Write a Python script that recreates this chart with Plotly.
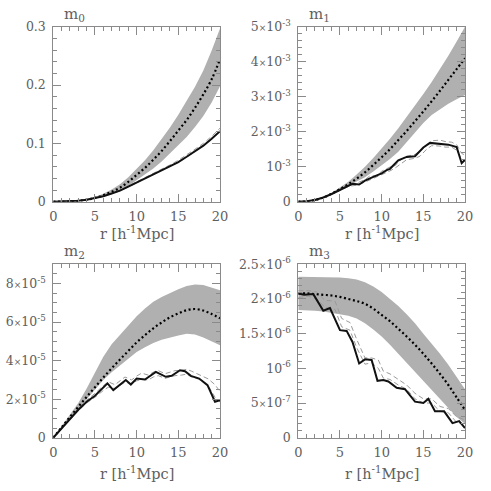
import plotly.graph_objects as go

# ---------------- data ----------------
r = list(range(0, 21))

# m0
m0_model = [0, 0.0001, 0.0005, 0.0015, 0.0035, 0.0065, 0.011, 0.017, 0.024, 0.034, 0.046,
            0.058, 0.072, 0.087, 0.104, 0.122, 0.140, 0.161, 0.184, 0.210, 0.244]
m0_hi = [0, 0.0001, 0.0006, 0.0018, 0.0042, 0.008, 0.0135, 0.021, 0.030, 0.042, 0.056,
         0.071, 0.088, 0.107, 0.127, 0.149, 0.172, 0.197, 0.225, 0.259, 0.297]
m0_lo = [0, 0.0001, 0.0004, 0.0012, 0.0028, 0.005, 0.0085, 0.013, 0.019, 0.027, 0.037,
         0.046, 0.057, 0.069, 0.083, 0.097, 0.111, 0.128, 0.147, 0.170, 0.198]
m0_data = [0, 0.0001, 0.0005, 0.0015, 0.0033, 0.006, 0.0095, 0.014, 0.019, 0.026, 0.033,
           0.039, 0.046, 0.053, 0.060, 0.068, 0.077, 0.086, 0.096, 0.108, 0.121]
m0_dash_hi = [0, 0.0001, 0.0005, 0.0015, 0.0034, 0.0062, 0.0098, 0.0145, 0.020, 0.027, 0.034,
              0.041, 0.048, 0.055, 0.063, 0.071, 0.080, 0.090, 0.100, 0.112, 0.126]
m0_dash_lo = [0, 0.0001, 0.0005, 0.0015, 0.0033, 0.006, 0.0094, 0.0138, 0.0188, 0.0255, 0.0325,
              0.0385, 0.0455, 0.0525, 0.0595, 0.0675, 0.0765, 0.0855, 0.0955, 0.1075, 0.1205]

# m1 (units of 1e-3)
m1_model = [0, 0.01, 0.05, 0.12, 0.23, 0.36, 0.50, 0.66, 0.84, 1.05, 1.27,
            1.50, 1.76, 2.02, 2.30, 2.58, 2.87, 3.17, 3.48, 3.79, 4.10]
m1_hi = [0, 0.01, 0.05, 0.13, 0.25, 0.40, 0.57, 0.78, 1.00, 1.25, 1.52,
         1.80, 2.10, 2.42, 2.75, 3.08, 3.42, 3.78, 4.17, 4.58, 5.00]
m1_lo = [0, 0.01, 0.05, 0.11, 0.21, 0.33, 0.45, 0.57, 0.70, 0.86, 1.03,
         1.22, 1.43, 1.70, 1.98, 2.25, 2.48, 2.65, 2.80, 2.93, 3.05]
m1_r = [0, 1, 2, 3, 4, 5, 6, 6.5, 7.3, 8, 9, 10, 10.6, 11, 12, 12.6, 13, 14, 15, 15.8, 16.6, 18, 19, 19.6, 20]
m1_data = [0, 0.01, 0.05, 0.12, 0.22, 0.34, 0.46, 0.51, 0.49, 0.60, 0.71, 0.81, 0.90, 0.94, 1.18, 1.24,
           1.28, 1.30, 1.55, 1.68, 1.66, 1.63, 1.56, 1.10, 1.20]
m1_dr = [0, 1, 2, 3, 4, 5, 6, 7, 8, 8.6, 9.4, 10, 11, 11.6, 12.4, 13, 14, 14.6, 15.4, 16, 17, 17.6, 18.4, 19, 19.6, 20]
m1_dash_hi = [0, 0.01, 0.05, 0.12, 0.23, 0.35, 0.48, 0.53, 0.63, 0.74, 0.74, 0.87, 0.99, 1.03, 1.22, 1.30,
              1.35, 1.45, 1.62, 1.74, 1.76, 1.72, 1.70, 1.63, 1.38, 1.33]
m1_dash_lo = [0, 0.01, 0.04, 0.11, 0.21, 0.32, 0.44, 0.47, 0.56, 0.62, 0.70, 0.78, 0.88, 0.96, 1.10, 1.20,
              1.24, 1.30, 1.50, 1.60, 1.59, 1.56, 1.56, 1.47, 1.22, 1.16]

# m2 (units of 1e-5)
m2_model = [0, 0.54, 1.08, 1.60, 2.12, 2.62, 3.12, 3.60, 4.06, 4.50, 4.95,
            5.32, 5.68, 5.98, 6.25, 6.45, 6.62, 6.68, 6.60, 6.42, 6.20]
m2_hi = [0, 0.60, 1.20, 1.80, 2.55, 3.40, 4.20, 4.85, 5.35, 5.85, 6.30,
         6.70, 7.05, 7.30, 7.52, 7.70, 7.88, 7.95, 7.92, 7.80, 7.65]
m2_lo = [0, 0.50, 1.00, 1.48, 2.00, 2.50, 3.00, 3.40, 3.75, 4.10, 4.45,
         4.70, 4.92, 5.08, 5.20, 5.30, 5.40, 5.35, 5.20, 5.00, 4.80]
m2_r = [0, 1, 2, 3, 4, 5, 6.5, 7.2, 8.7, 9.3, 10, 11, 12.3, 13.5, 14.2, 15.2, 15.8, 16.5, 17.5, 18.5, 19.4, 20]
m2_data = [0, 0.50, 1.00, 1.45, 1.87, 2.18, 2.82, 2.47, 2.99, 2.76, 3.07, 3.02, 3.42, 3.16, 3.21,
           3.50, 3.45, 3.21, 3.07, 2.73, 1.87, 1.95]
m2_dr = [0, 1, 2, 3, 4, 5, 6, 6.6, 7.4, 8, 8.6, 9.4, 10, 10.6, 11.4, 12, 12.6, 13.4, 14, 14.6,
         15.4, 16, 16.6, 17.4, 18, 18.6, 19.4, 20]
m2_dash_hi = [0, 0.52, 1.03, 1.50, 1.95, 2.30, 2.70, 2.90, 2.75, 2.95, 3.15, 3.00, 3.20, 3.35, 3.25,
              3.40, 3.48, 3.32, 3.40, 3.48, 3.50, 3.55, 3.45, 3.30, 3.20, 3.05, 2.75, 2.40]
m2_dash_lo = [0, 0.48, 0.97, 1.40, 1.80, 2.10, 2.45, 2.62, 2.55, 2.70, 2.88, 2.80, 2.95, 3.02, 3.00,
              3.15, 3.22, 3.08, 3.15, 3.22, 3.25, 3.30, 3.15, 3.05, 2.90, 2.68, 2.10, 1.85]

# m3 (units of 1e-6)
m3_model = [2.08, 2.08, 2.07, 2.06, 2.05, 2.03, 2.00, 1.97, 1.93, 1.86, 1.77,
            1.68, 1.57, 1.46, 1.34, 1.21, 1.07, 0.92, 0.76, 0.58, 0.40]
m3_hi = [2.32, 2.32, 2.32, 2.32, 2.32, 2.31, 2.30, 2.28, 2.24, 2.18, 2.10,
         2.00, 1.90, 1.78, 1.65, 1.50, 1.36, 1.21, 1.05, 0.88, 0.70]
m3_lo = [1.84, 1.84, 1.83, 1.82, 1.80, 1.78, 1.76, 1.72, 1.65, 1.56, 1.46,
         1.34, 1.21, 1.08, 0.94, 0.81, 0.68, 0.55, 0.42, 0.30, 0.20]
m3_r = [0, 0.7, 1.8, 3.0, 3.8, 5.0, 5.8, 6.5, 7.3, 8.0, 8.8, 9.5, 10.2, 10.8, 11.8, 12.8,
        14.0, 15.0, 15.6, 16.4, 17.5, 18.5, 19.3, 20]
m3_data = [2.08, 2.06, 2.07, 1.83, 1.87, 1.55, 1.54, 1.38, 1.07, 1.13, 1.12, 0.82, 0.83, 0.81,
           0.72, 0.70, 0.52, 0.50, 0.56, 0.38, 0.38, 0.21, 0.24, 0.14]
m3_dr = [0, 1.2, 2.2, 3.2, 4.4, 5.2, 6.2, 7.0, 8.0, 8.8, 9.6, 10.2, 11.0, 12.0, 13.0, 14.0,
         15.0, 16.0, 17.0, 18.0, 19.0, 20]
m3_dash_hi = [2.12, 2.12, 2.10, 1.98, 1.97, 1.72, 1.66, 1.42, 1.15, 1.15, 1.12, 0.96, 0.92, 0.84,
              0.76, 0.64, 0.56, 0.56, 0.45, 0.42, 0.30, 0.26]
m3_dash_lo = [2.02, 2.04, 2.00, 1.88, 1.85, 1.60, 1.55, 1.30, 1.06, 1.08, 1.00, 0.86, 0.84, 0.76,
              0.70, 0.56, 0.50, 0.50, 0.38, 0.36, 0.22, 0.20]

X = "<span style='font-size:9px'>×</span>"


def sci(mant, exp):
    return (mant + X if mant else "") + "10<sup>-" + exp + "</sup>"


m1_ticklabels = ["0", sci("", "3"), sci("2", "3"), sci("3", "3"), sci("4", "3"), sci("5", "3")]
m2_ticklabels = ["0", sci("2", "5"), sci("4", "5"), sci("6", "5"), sci("8", "5")]
m3_ticklabels = ["0", sci("5", "7"), sci("", "6"), sci("1.5", "6"), sci("2", "6"), sci("2.5", "6")]

panels = [
    dict(name="m<sub>0</sub>", model=m0_model, hi=m0_hi, lo=m0_lo, dr=r, dhi=m0_dash_hi, dlo=m0_dash_lo,
         sr=r, data=m0_data, yr=[0, 0.3], tv=[0, 0.1, 0.2, 0.3], tt=["0", "0.1", "0.2", "0.3"], minor=0.02),
    dict(name="m<sub>1</sub>", model=m1_model, hi=m1_hi, lo=m1_lo, dr=m1_dr, dhi=m1_dash_hi, dlo=m1_dash_lo,
         sr=m1_r, data=m1_data, yr=[0, 5], tv=[0, 1, 2, 3, 4, 5], tt=m1_ticklabels, minor=0.2),
    dict(name="m<sub>2</sub>", model=m2_model, hi=m2_hi, lo=m2_lo, dr=m2_dr, dhi=m2_dash_hi, dlo=m2_dash_lo,
         sr=m2_r, data=m2_data, yr=[0, 9], tv=[0, 2, 4, 6, 8], tt=m2_ticklabels, minor=0.5),
    dict(name="m<sub>3</sub>", model=m3_model, hi=m3_hi, lo=m3_lo, dr=m3_dr, dhi=m3_dash_hi, dlo=m3_dash_lo,
         sr=m3_r, data=m3_data, yr=[0, 2.5], tv=[0, 0.5, 1, 1.5, 2, 2.5], tt=m3_ticklabels, minor=0.1),
]

W = H = 491
xdoms = [[53.3 / W, 220 / W], [298.3 / W, 465 / W]]
ydoms = [[1 - 201.7 / H, 1 - 26.7 / H], [1 - 437.7 / H, 1 - 264.3 / H]]
title_y = [1 - 233 / H, 1 - 473 / H]

FONT = "DejaVu Serif"
TXT = "#606060"
AX = "#8a8a8a"

fig = go.Figure()
layout = dict(width=W, height=H, margin=dict(l=0, r=0, t=0, b=0, autoexpand=False),
              paper_bgcolor="white", plot_bgcolor="white", showlegend=False,
              font=dict(family=FONT, color=TXT, size=13))
annotations = []

for i, p in enumerate(panels):
    row, col = divmod(i, 2)
    xa = "x" if i == 0 else f"x{i+1}"
    ya = "y" if i == 0 else f"y{i+1}"
    common = dict(xaxis=xa, yaxis=ya, showlegend=False, hoverinfo="skip")
    fig.add_trace(go.Scatter(x=r, y=p["hi"], mode="lines", line=dict(width=0, color="#b0b0b0"), **common))
    fig.add_trace(go.Scatter(x=r, y=p["lo"], mode="lines", line=dict(width=0, color="#b0b0b0"),
                             fill="tonexty", fillcolor="#b0b0b0", **common))
    fig.add_trace(go.Scatter(x=p["dr"], y=p["dhi"], mode="lines",
                             line=dict(width=1, color="#9a9a9a", dash="5px,3px"), **common))
    fig.add_trace(go.Scatter(x=p["dr"], y=p["dlo"], mode="lines",
                             line=dict(width=1, color="#9a9a9a", dash="5px,3px"), **common))
    fig.add_trace(go.Scatter(x=r, y=p["model"], mode="lines", line_shape="spline",
                             line=dict(width=2.2, color="black", dash="2px,2.6px"), **common))
    fig.add_trace(go.Scatter(x=p["sr"], y=p["data"], mode="lines",
                             line=dict(width=2, color="#111111"), **common))

    axkey_x = "xaxis" if i == 0 else f"xaxis{i+1}"
    axkey_y = "yaxis" if i == 0 else f"yaxis{i+1}"
    layout[axkey_x] = dict(domain=xdoms[col], anchor=ya, range=[0, 20], tickvals=[0, 5, 10, 15, 20],
                           ticktext=["0", "5", "10", "15", "20"], automargin=False,
                           ticks="inside", ticklen=8, tickwidth=1, tickcolor=AX,
                           showline=True, linecolor=AX, linewidth=1, mirror="allticks",
                           showgrid=False, zeroline=False,
                           minor=dict(dtick=1, ticks="inside", ticklen=4, tickcolor=AX, showgrid=False),
                           tickfont=dict(family=FONT, size=13, color=TXT), ticklabelstandoff=3)
    layout[axkey_y] = dict(domain=ydoms[row], anchor=xa, range=p["yr"], tickvals=p["tv"], ticktext=p["tt"],
                           ticks="inside", ticklen=8, tickwidth=1, tickcolor=AX, automargin=False,
                           showline=True, linecolor=AX, linewidth=1, mirror="allticks",
                           showgrid=False, zeroline=False,
                           minor=dict(dtick=p["minor"], ticks="inside", ticklen=4, tickcolor=AX, showgrid=False),
                           tickfont=dict(family=FONT, size=12.5, color=TXT), ticklabelstandoff=4)
    annotations.append(dict(text=p["name"], xref=f"{xa} domain", yref=f"{ya} domain", x=0.05, y=1.0,
                            xanchor="left", yanchor="bottom", yshift=1, showarrow=False,
                            font=dict(family=FONT, size=15, color=TXT)))
    annotations.append(dict(text="r [h<sup>-1</sup>Mpc]", xref=f"{xa} domain", yref="paper", x=0.5,
                            y=title_y[row], xanchor="center", yanchor="middle", showarrow=False,
                            font=dict(family=FONT, size=14.5, color=TXT)))

layout["annotations"] = annotations
fig.update_layout(**layout)
fig.write_html("out.html", config={"displayModeBar": False},
               post_script="document.body.style.margin='0';document.body.style.overflow='hidden';")
